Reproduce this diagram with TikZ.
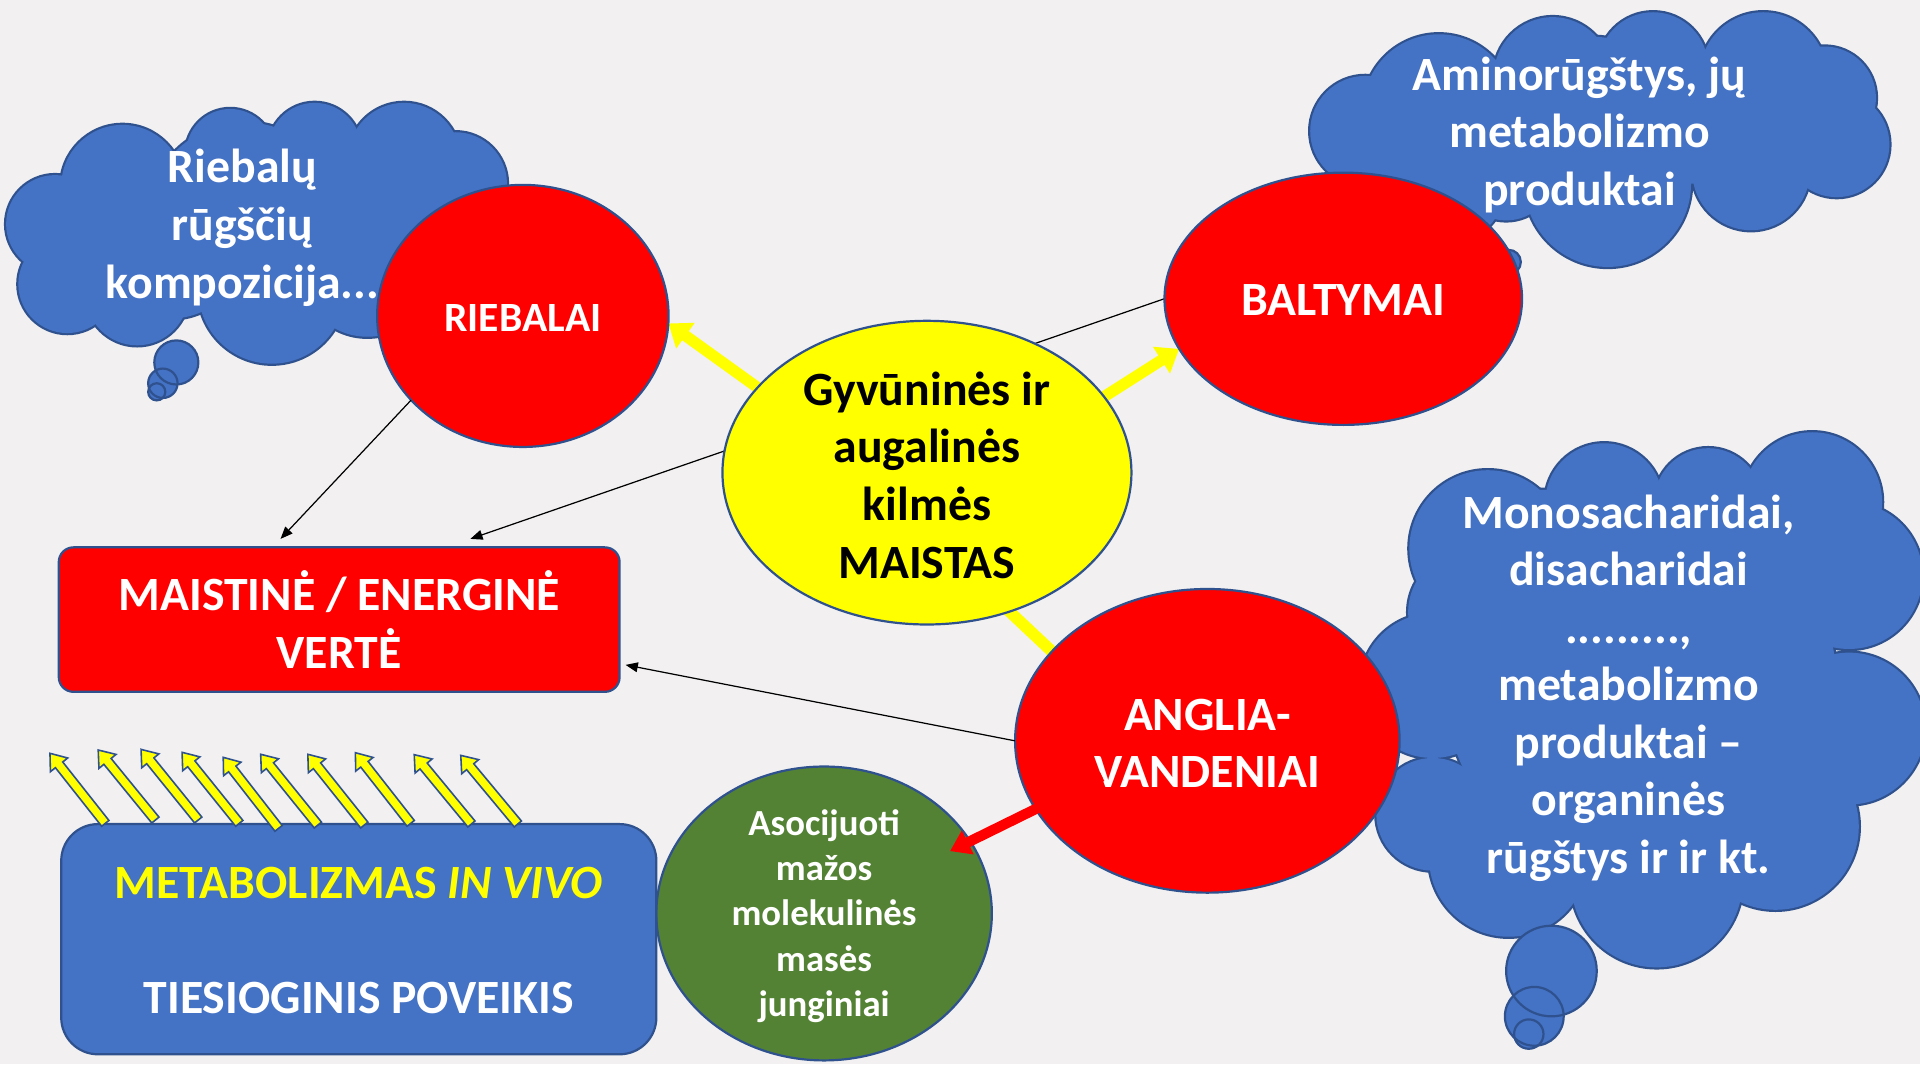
\documentclass[tikz,border=0pt]{standalone}
\usepackage{fontspec}
\setmainfont{Carlito}
\usetikzlibrary{calc,arrows.meta,shapes.geometric}

\definecolor{bgc}{RGB}{242,240,240}
\definecolor{cblue}{RGB}{68,114,196}
\definecolor{bord}{RGB}{47,82,143}
\definecolor{rred}{RGB}{255,0,0}
\definecolor{yyel}{RGB}{255,255,0}
\definecolor{ggreen}{RGB}{84,130,53}

% block arrow: tail, tip, shaft half width, head half width, head length, style
\newcommand{\blockarrow}[6]{%
  \coordinate (babase) at ($(#2)!#5!(#1)$);
  \path[#6] ($(#1)!#3!90:(#2)$) -- ($(babase)!#3!90:(#2)$) -- ($(babase)!#4!90:(#2)$)
    -- (#2) -- ($(babase)!#4!-90:(#2)$) -- ($(babase)!#3!-90:(#2)$)
    -- ($(#1)!#3!-90:(#2)$) -- cycle;
}
% cloud as union of circles
\newcommand{\drawcloud}[1]{%
  \foreach \cx/\cy/\r in {#1} {\draw[bord, line width=3.6pt] (\cx,\cy) circle[radius=\r];}
  \foreach \cx/\cy/\r in {#1} {\fill[cblue] (\cx,\cy) circle[radius=\r];}
}
\newcommand{\drawbubbles}[1]{%
  \foreach \cx/\cy/\r in {#1} {\fill[cblue] (\cx,\cy) circle[radius=\r];}
  \foreach \cx/\cy/\r in {#1} {\draw[bord, line width=1.8pt] (\cx,\cy) circle[radius=\r];}
}

\begin{document}
\begin{tikzpicture}[x=1pt,y=-1pt,
  txt/.style={font=\bfseries\fontsize{39}{47}\selectfont, align=center, inner sep=0pt},
  wtxt/.style={txt, text=white},
  blk/.style={draw=black, line width=1pt, -{Triangle[length=10pt,width=8pt]}},
  yarrow/.style={fill=yyel},
  rarrow/.style={fill=rred},
  sarrow/.style={fill=yyel, draw=bord, line width=1.3pt, line join=miter}
]
\useasboundingbox (0,0) rectangle (1568,869);
\fill[bgc] (0,0) rectangle (1568,869);

% ---------- clouds ----------
\drawcloud{45/183/40, 100/152/50, 188/125/36, 257/122/38, 330/130/46, 372/150/42,
  55/232/40, 112/240/42, 222/237/60, 300/220/55, 200/180/80, 330/180/50, 140/200/60,
  290/160/45}
\drawbubbles{144/296/18, 133/313/12, 128/320/7}

\drawcloud{1115/107/45, 1175/90/62, 1268/62/48, 1350/55/45, 1440/62/52, 1490/80/42,
  1500/118/43, 1430/140/48, 1313/150/68, 1180/150/50, 1300/110/80, 1230/140/40, 1380/100/50}
\drawbubbles{1232/214/10}

\drawcloud{1215/448/64, 1310/410/48, 1395/410/44, 1480/410/57, 1510/470/60, 1510/595/62,
  1450/675/68, 1353/720/70, 1232/700/65, 1170/665/46, 1170/560/59, 1200/500/50,
  1260/450/50, 1340/560/160}
\drawbubbles{1267/793/37, 1253/830/24, 1248.5/844.5/12}

\node[wtxt] (c1T) at (198,186) {Riebalų\\rūgščių\\kompozicija...};
\node[wtxt] (c2T) at (1290,110) {Aminorūgštys, jų\\metabolizmo\\produktai};
\node[wtxt] (c3T) at (1330,562) {Monosacharidai,\\disacharidai\\.........,\\metabolizmo\\produktai –\\organinės\\rūgštys ir ir kt.};

% ---------- node shapes (positions) ----------
\path (757,386) node[ellipse, minimum width=334pt, minimum height=248pt, inner sep=0pt] (maistas) {};
\path (427,258) node[ellipse, minimum width=238pt, minimum height=214pt, inner sep=0pt] (riebalai) {};
\path (1097,244) node[ellipse, minimum width=292pt, minimum height=206pt, inner sep=0pt] (baltymai) {};
\path (986,605) node[ellipse, minimum width=314pt, minimum height=248pt, inner sep=0pt] (anglia) {};
\path (673,746) node[ellipse, minimum width=274pt, minimum height=240pt, inner sep=0pt] (asoc) {};

% MAISTINE box
\node[rectangle, rounded corners=12pt, fill=rred, draw=bord, line width=1.8pt,
  minimum width=458pt, minimum height=118pt, wtxt] (box) at (277,506)
  {MAISTINĖ / ENERGINĖ\\VERTĖ};

% connectors behind the central ellipse
\draw[blk] (baltymai.west) -- ($(box.north west)+(337,-6)$);
\coordinate (mc) at ($(maistas.center)+(0,30)$);
\blockarrow{mc}{riebalai.-3}{4.6pt}{13pt}{17pt}{yarrow}
\blockarrow{mc}{baltymai.197}{4.6pt}{13pt}{17pt}{yarrow}
\draw[yyel, line width=9.5pt] ($(maistas.center)+(0,50)$) -- ($(anglia.center)+(-60,-10)$);

% ellipses
\fill[yyel] (maistas.center) ellipse[x radius=167, y radius=124];
\draw[bord, line width=1.8pt] (maistas.center) ellipse[x radius=167, y radius=124];
\fill[rred] (riebalai.center) ellipse[x radius=119, y radius=107];
\draw[bord, line width=1.8pt] (riebalai.center) ellipse[x radius=119, y radius=107];
\fill[rred] (baltymai.center) ellipse[x radius=146, y radius=103];
\draw[bord, line width=1.8pt] (baltymai.center) ellipse[x radius=146, y radius=103];
\fill[rred] (anglia.center) ellipse[x radius=157, y radius=124];
\draw[bord, line width=1.8pt] (anglia.center) ellipse[x radius=157, y radius=124];
\fill[ggreen] (asoc.center) ellipse[x radius=137, y radius=120];
\draw[bord, line width=1.8pt] (asoc.center) ellipse[x radius=137, y radius=120];

% texts in ellipses
\node[txt] (maistasT) at (757,388) {Gyvūninės ir\\augalinės\\kilmės\\MAISTAS};
\node[wtxt, font=\bfseries\fontsize{34}{42}\selectfont] (riebalaiT) at (427,260) {RIEBALAI};
\node[wtxt] (baltymaiT) at (1097,245) {BALTYMAI};
\node[wtxt] (angliaT) at (986,607) {ANGLIA-\\VANDENIAI};
\node[wtxt, font=\bfseries\fontsize{30}{37}\selectfont] (asocT) at (673,748)
  {Asocijuoti\\mažos\\molekulinės\\masės\\junginiai};

% other connectors
\draw[blk] (riebalai.217) -- ($(box.north west)+(182,-6)$);
\draw[blk] (anglia.west) -- ($(box.east)+(4,37)$);
\coordinate (ra1) at ($(anglia.center)+(-86,29)$);
\coordinate (ra2) at ($(asoc.center)+(103,-51)$);
\blockarrow{ra1}{ra2}{4.2pt}{11pt}{16pt}{rarrow}

% METABOLIZMAS box
\node[rectangle, rounded corners=30pt, fill=cblue, draw=bord, line width=1.8pt,
  minimum width=486pt, minimum height=188pt] (metab) at (293,767) {};
\node[txt, text=yyel] (metabT) at (293,721) {METABOLIZMAS \textit{IN VIVO}};
\node[wtxt] (tiesT) at (293,815) {TIESIOGINIS POVEIKIS};

% small yellow arrows
\foreach \tx/\ty/\px/\py [count=\i] in {86/672.4/40.8/615.2, 126.9/669.7/80.2/612.5,
  161.9/669.7/115.2/612, 195.4/672.4/148.7/614.4, 227.5/676.5/182.3/618.5,
  259.6/673.8/212.9/616, 297.5/673.8/251.4/616, 335.4/672.4/290.2/614.7,
  385/672.9/338.3/616.3, 422.9/672.9/376.3/616.9} {
  \coordinate (st\i) at (\tx,\ty);
  \coordinate (sp\i) at (\px,\py);
  \blockarrow{st\i}{sp\i}{3.8pt}{9pt}{12pt}{sarrow}
}
\end{tikzpicture}
\end{document}
